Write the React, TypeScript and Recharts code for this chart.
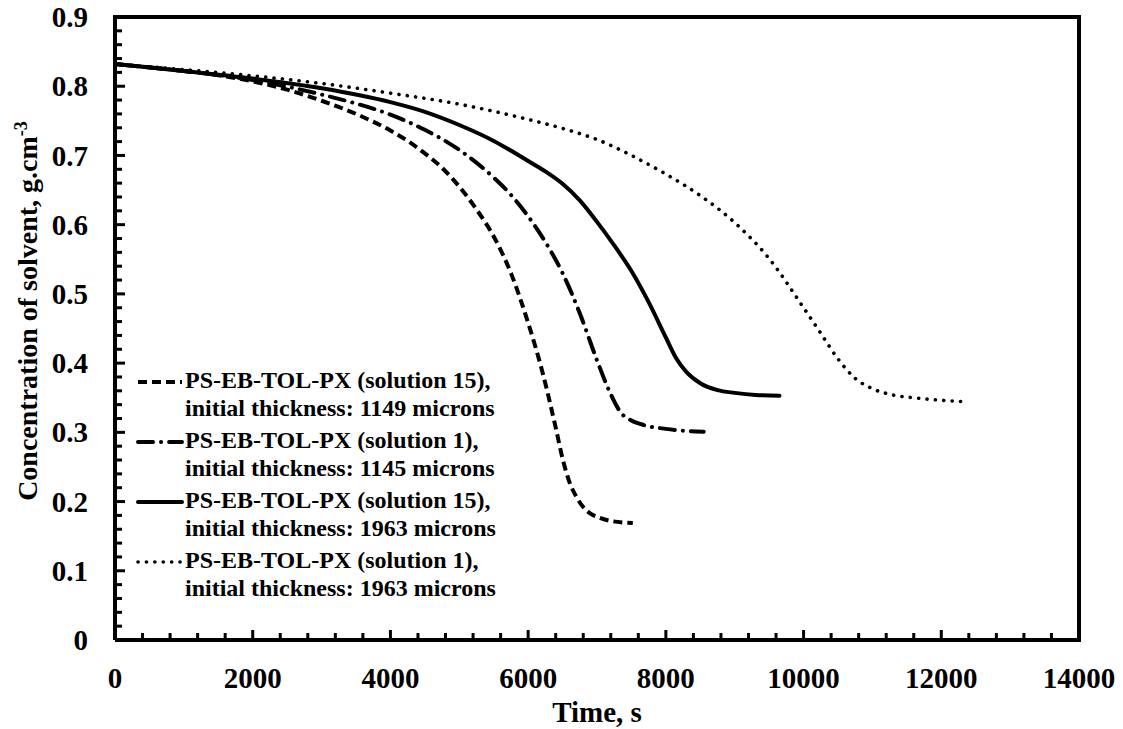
import {
  LineChart,
  Line,
  XAxis,
  YAxis,
  Label,
  Legend,
  ReferenceLine,
} from "recharts";

// time (s) / concentration (g.cm-3)
const sol15thin = [
  { t: 0, c: 0.832 }, { t: 1000, c: 0.822 }, { t: 1500, c: 0.816 },
  { t: 2000, c: 0.807 }, { t: 2500, c: 0.795 }, { t: 3000, c: 0.779 },
  { t: 3500, c: 0.76 }, { t: 4000, c: 0.736 }, { t: 4250, c: 0.721 },
  { t: 4500, c: 0.703 }, { t: 4750, c: 0.682 }, { t: 5000, c: 0.655 },
  { t: 5250, c: 0.622 }, { t: 5500, c: 0.583 }, { t: 5750, c: 0.53 },
  { t: 6000, c: 0.458 }, { t: 6200, c: 0.39 }, { t: 6400, c: 0.307 },
  { t: 6500, c: 0.262 }, { t: 6600, c: 0.228 }, { t: 6700, c: 0.207 },
  { t: 6800, c: 0.192 }, { t: 6900, c: 0.183 }, { t: 7000, c: 0.178 },
  { t: 7200, c: 0.172 }, { t: 7520, c: 0.169 },
];

const sol1thin = [
  { t: 0, c: 0.832 }, { t: 1000, c: 0.822 }, { t: 2000, c: 0.809 },
  { t: 3000, c: 0.788 }, { t: 3500, c: 0.775 }, { t: 4000, c: 0.759 },
  { t: 4500, c: 0.737 }, { t: 5000, c: 0.708 }, { t: 5500, c: 0.668 },
  { t: 5750, c: 0.643 }, { t: 6000, c: 0.612 }, { t: 6250, c: 0.575 },
  { t: 6500, c: 0.53 }, { t: 6750, c: 0.472 }, { t: 7000, c: 0.404 },
  { t: 7200, c: 0.355 }, { t: 7350, c: 0.328 }, { t: 7500, c: 0.317 },
  { t: 7700, c: 0.31 }, { t: 8000, c: 0.305 }, { t: 8300, c: 0.302 },
  { t: 8550, c: 0.301 },
];

const sol15thick = [
  { t: 0, c: 0.832 }, { t: 1000, c: 0.822 }, { t: 2000, c: 0.811 },
  { t: 3000, c: 0.797 }, { t: 4000, c: 0.777 }, { t: 4500, c: 0.763 },
  { t: 5000, c: 0.744 }, { t: 5500, c: 0.721 }, { t: 6000, c: 0.692 },
  { t: 6250, c: 0.677 }, { t: 6500, c: 0.659 }, { t: 6750, c: 0.635 },
  { t: 7000, c: 0.604 }, { t: 7250, c: 0.57 }, { t: 7500, c: 0.533 },
  { t: 7750, c: 0.488 }, { t: 8000, c: 0.437 }, { t: 8150, c: 0.407 },
  { t: 8300, c: 0.387 }, { t: 8500, c: 0.371 }, { t: 8750, c: 0.361 },
  { t: 9000, c: 0.357 }, { t: 9300, c: 0.354 }, { t: 9650, c: 0.353 },
];

const sol1thick = [
  { t: 0, c: 0.832 }, { t: 1000, c: 0.824 }, { t: 2000, c: 0.815 },
  { t: 3000, c: 0.804 }, { t: 4000, c: 0.79 }, { t: 5000, c: 0.774 },
  { t: 6000, c: 0.752 }, { t: 6500, c: 0.739 }, { t: 7000, c: 0.723 },
  { t: 7500, c: 0.7 }, { t: 8000, c: 0.673 }, { t: 8500, c: 0.642 },
  { t: 9000, c: 0.603 }, { t: 9500, c: 0.551 }, { t: 10000, c: 0.48 },
  { t: 10250, c: 0.443 }, { t: 10500, c: 0.406 }, { t: 10750, c: 0.378 },
  { t: 11000, c: 0.363 }, { t: 11250, c: 0.355 }, { t: 11700, c: 0.349 },
  { t: 12400, c: 0.344 },
];

const seriesNames = [
  ["PS-EB-TOL-PX (solution 15),", "initial thickness: 1149 microns"],
  ["PS-EB-TOL-PX (solution 1),", "initial thickness: 1145 microns"],
  ["PS-EB-TOL-PX (solution 15),", "initial thickness: 1963 microns"],
  ["PS-EB-TOL-PX (solution 1),", "initial thickness: 1963 microns"],
];

const xTicks = Array.from({ length: 36 }, (_, i) => i * 400);
const yTicks = Array.from({ length: 46 }, (_, i) => Math.round(i * 2) / 100);

const FONT = "Liberation Serif";

const lineStyles = [
  { dash: "9 5", cap: "butt", width: 4 },
  { dash: "15 8 0.1 8", cap: "round", width: 4 },
  { dash: undefined, cap: "round", width: 4 },
  { dash: "0.1 8.3", cap: "round", width: 3.6 },
];

const XTick = ({ x, y, payload }: any) => {
  const major = payload.value % 2000 === 0;
  return (
    <g>
      <line x1={x} x2={x} y1={y} y2={y - (major ? 10 : 7)} stroke="#000" strokeWidth={3} />
      {major && (
        <text x={x} y={y + 48} textAnchor="middle" fontFamily={FONT} fontWeight="bold" fontSize={29} fill="#000">
          {payload.value}
        </text>
      )}
    </g>
  );
};

const YTick = ({ x, y, payload }: any) => {
  const v = payload.value;
  const major = Math.abs(v * 10 - Math.round(v * 10)) < 1e-6;
  return (
    <g>
      <line x1={x} x2={x + (major ? 10 : 7)} y1={y} y2={y} stroke="#000" strokeWidth={3} />
      {major && (
        <text x={x - 27} y={y} dy="0.35em" textAnchor="end" fontFamily={FONT} fontWeight="bold" fontSize={29} fill="#000">
          {String(Math.round(v * 10) / 10)}
        </text>
      )}
    </g>
  );
};

const LegendBox = () => (
  <svg width={380} height={250} style={{ display: "block" }}>
    {seriesNames.map((name, i) => {
      const s = lineStyles[i];
      const base = 22 + i * 60;
      return (
        <g key={i}>
          <line
            x1={3}
            x2={47}
            y1={base - 6}
            y2={base - 6}
            stroke="#000"
            strokeWidth={s.width}
            strokeDasharray={s.dash}
            strokeLinecap={s.cap as any}
          />
          <text x={50} y={base} fontFamily={FONT} fontWeight="bold" fontSize={24} fill="#000">
            {name[0]}
          </text>
          <text x={50} y={base + 28} fontFamily={FONT} fontWeight="bold" fontSize={24} fill="#000">
            {name[1]}
          </text>
        </g>
      );
    })}
  </svg>
);

const allSeries = [sol15thin, sol1thin, sol15thick, sol1thick];

export default function App() {
  return (
    <div style={{ position: "absolute", left: 0, top: 0 }}>
      <LineChart
        width={1123}
        height={729}
        margin={{ top: 17, right: 44, bottom: 0, left: 0 }}
      >
        <XAxis
          dataKey="t"
          type="number"
          domain={[0, 14000]}
          ticks={xTicks}
          interval={0}
          height={89}
          tickSize={0}
          tickMargin={0}
          tickLine={false}
          tick={<XTick />}
          axisLine={{ stroke: "#000", strokeWidth: 4 }}
          allowDataOverflow
        >
          <Label
            content={({ viewBox }: any) => (
              <text
                x={viewBox.x + viewBox.width / 2}
                y={722}
                textAnchor="middle"
                fontFamily={FONT}
                fontWeight="bold"
                fontSize={29}
                fill="#000"
              >
                Time, s
              </text>
            )}
          />
        </XAxis>
        <YAxis
          type="number"
          domain={[0, 0.9]}
          ticks={yTicks}
          interval={0}
          width={115}
          tickSize={0}
          tickMargin={0}
          tickLine={false}
          tick={<YTick />}
          axisLine={{ stroke: "#000", strokeWidth: 4 }}
          allowDataOverflow
        >
          <Label
            content={() => (
              <text
                transform="translate(37, 311) rotate(-90)"
                textAnchor="middle"
                fontFamily={FONT}
                fontWeight="bold"
                fontSize={28}
                fill="#000"
              >
                Concentration of solvent, g.cm
                <tspan dy={-10} fontSize={18}>-3</tspan>
              </text>
            )}
          />
        </YAxis>
        <ReferenceLine y={0.9} stroke="#000" strokeWidth={4} strokeLinecap="square" />
        <ReferenceLine x={14000} stroke="#000" strokeWidth={4} strokeLinecap="square" />
        {allSeries.map((d, i) => (
          <Line
            key={i}
            data={d}
            dataKey="c"
            name={seriesNames[i].join(" ")}
            type="monotone"
            stroke="#000"
            strokeWidth={lineStyles[i].width}
            strokeDasharray={lineStyles[i].dash}
            strokeLinecap={lineStyles[i].cap as any}
            dot={false}
            activeDot={false}
            isAnimationActive={false}
          />
        ))}
        <Legend
          layout="vertical"
          align="center"
          verticalAlign="middle"
          content={<LegendBox />}
          wrapperStyle={{ position: "absolute", left: 135, top: 366, width: 380, height: 250 }}
        />
      </LineChart>
    </div>
  );
}
